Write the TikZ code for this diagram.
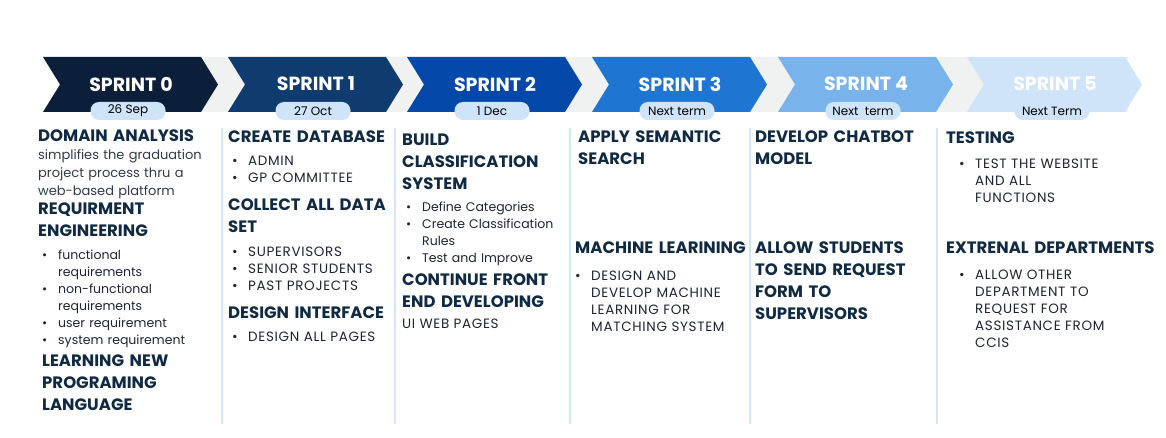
\documentclass[tikz,border=0pt]{standalone}
\usepackage{fontspec}
\setmainfont{Poppins}
\definecolor{navy}{HTML}{102A43}
\definecolor{ink}{HTML}{1B2535}
\definecolor{paraink}{HTML}{2F3A4A}
\definecolor{sA}{HTML}{0B1F3A}
\definecolor{sB}{HTML}{0F3B6E}
\definecolor{sC}{HTML}{0448AA}
\definecolor{sD}{HTML}{1F76D2}
\definecolor{sE}{HTML}{78B3EC}
\definecolor{sF}{HTML}{CFE3F9}
\definecolor{pillblue}{HTML}{D0E4F9}
\definecolor{bandgray}{HTML}{F0F1F1}
\definecolor{divider}{HTML}{D3E5F8}
\newlength{\bulind}\setlength{\bulind}{16pt}
\newcommand{\bul}[1]{\hangindent=\bulind\hangafter=1\noindent\makebox[\bulind][l]{\textbullet}#1\par}
\tikzset{
  head/.style={anchor=base west, inner sep=0pt, text width=260pt, align=left,
    font=\fontsize{16.5}{22}\selectfont\bfseries, text=navy},
  para/.style={anchor=base west, inner sep=0pt, text width=220pt, align=left,
    font=\fontsize{13}{18}\selectfont, text=paraink},
  blist/.style={anchor=base west, inner sep=0pt, text width=220pt, align=left,
    font=\fontsize{12.5}{17}\selectfont, text=ink},
  capslist/.style={anchor=base west, inner sep=0pt, text width=220pt, align=left,
    font=\fontsize{13.5}{17}\selectfont\addfontfeature{LetterSpace=5}, text=ink},
  plain/.style={anchor=base west, inner sep=0pt,
    font=\fontsize{13.5}{17}\selectfont\addfontfeature{LetterSpace=5}, text=ink},
  sprintlbl/.style={inner sep=0pt, text=white, font=\fontsize{19}{22}\selectfont\bfseries},
  pill/.style={fill=pillblue, rounded corners=8.5pt, minimum width=75pt, minimum height=18pt,
    inner sep=0pt, text=black, font=\fontsize{12}{13}\selectfont},
  divline/.style={draw=divider, line width=2pt},
}
\begin{document}
\begin{tikzpicture}[x=1pt,y=-1pt]
\useasboundingbox (0,0) rectangle (1166,438);
\fill[bandgray] (200,57) rectangle (1128,112);
\foreach \i/\L/\col/\dt in {0/43/sA/26 Sep, 1/228/sB/27 Oct, 2/407/sC/1 Dec, 3/592/sD/Next term, 4/778/sE/Next\ \ term, 5/967/sF/Next Term}{
  \fill[\col] (\L,57) -- ++(158,0) -- ++(17,27.5) -- ++(-17,27.5) -- ++(-158,0) -- ++(17,-27.5) -- cycle;
  \node[sprintlbl] (s\i) at (\L+88,84) {SPRINT \i};
  \node[pill] (d\i) at (\L+85,111) {\dt};
}
\foreach \x in {222,395,570,750,937}{
  \draw[divline] (\x,128) -- (\x,424);
}
% column 0
\node[head] (c0a) at (38,141.5) {DOMAIN ANALYSIS};
\node[para] (c0b) at (38,160) {simplifies the graduation\\project process thru a\\web-based platform};
\node[head] (c0c) at (38,214.5) {REQUIRMENT\\ENGINEERING};
\node[blist] (c0d) at (42,259.5) {\bul{functional\newline requirements}\bul{non-functional\newline requirements}\bul{user requirement}\bul{system requirement}};
\node[head] (c0e) at (42,366.5) {LEARNING NEW\\PROGRAMING\\LANGUAGE};
% column 1
\node[head] (c1a) at (228,142.5) {CREATE DATABASE};
\node[capslist] (c1b) at (232,165.5) {\bul{ADMIN}\bul{GP COMMITTEE}};
\node[head] (c1c) at (228,210.5) {COLLECT ALL DATA\\SET};
\node[capslist] (c1d) at (232,256.5) {\bul{SUPERVISORS}\bul{SENIOR STUDENTS}\bul{PAST PROJECTS}};
\node[head] (c1e) at (228,318.5) {DESIGN INTERFACE};
\node[capslist] (c1f) at (232,341.5) {\bul{DESIGN ALL PAGES}};
% column 2
\node[head] (c2a) at (402,145.5) {BUILD\\CLASSIFICATION\\SYSTEM};
\node[blist] (c2b) at (406,211.5) {\bul{Define Categories}\bul{Create Classification\newline Rules}\bul{Test and Improve}};
\node[head] (c2c) at (402,285.5) {CONTINUE FRONT\\END DEVELOPING};
\node[plain] (c2d) at (402,328.5) {UI WEB PAGES};
% column 3
\node[head] (c3a) at (578,142.5) {APPLY SEMANTIC\\SEARCH};
\node[head] (c3b) at (575,253.5) {MACHINE LEARINING};
\node[capslist] (c3c) at (575,280.5) {\bul{DESIGN AND\newline DEVELOP MACHINE\newline LEARNING FOR\newline MATCHING SYSTEM}};
% column 4
\node[head] (c4a) at (755,142.5) {DEVELOP CHATBOT\\MODEL};
\node[head] (c4b) at (755,253.5) {ALLOW STUDENTS\\TO SEND REQUEST\\FORM TO\\SUPERVISORS};
% column 5
\node[head] (c5a) at (946,143.5) {TESTING};
\node[capslist] (c5b) at (959,168.5) {\bul{TEST THE WEBSITE\newline AND ALL\newline FUNCTIONS}};
\node[head] (c5c) at (946,253.5) {EXTRENAL DEPARTMENTS};
\node[capslist] (c5d) at (959,279.5) {\bul{ALLOW OTHER\newline DEPARTMENT TO\newline REQUEST FOR\newline ASSISTANCE FROM\newline CCIS}};
\end{tikzpicture}
\end{document}
